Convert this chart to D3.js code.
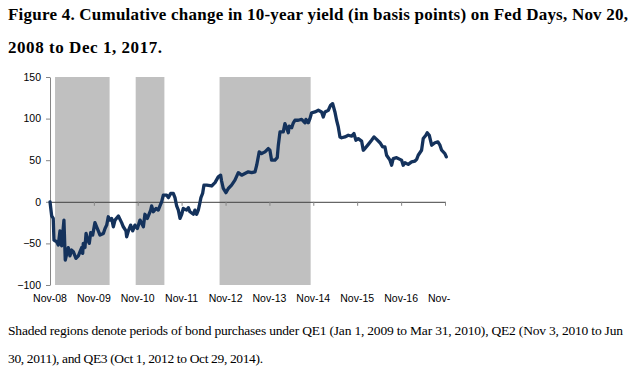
<!DOCTYPE html>
<html>
<head>
<meta charset="utf-8">
<script src="https://cdn.jsdelivr.net/npm/d3@7"></script>
<style>
  html, body { margin: 0; padding: 0; background: #fff; }
  svg { display: block; }
</style>
</head>
<body>
<svg id="chart" width="632" height="372"></svg>
<script>
const titleLines = [
  "Figure 4. Cumulative change in 10-year yield (in basis points) on Fed Days, Nov 20,",
  "2008 to Dec 1, 2017."
];
const captionLines = [
  "Shaded regions denote periods of bond purchases under QE1 (Jan 1, 2009 to Mar 31, 2010), QE2 (Nov 3, 2010 to Jun",
  "30, 2011), and QE3 (Oct 1, 2012 to Oct 29, 2014)."
];

const dates = [
  "2008-11-20","2008-12-04","2008-12-17","2008-12-23","2009-01-15","2009-01-28","2009-02-11","2009-02-25",
  "2009-03-16","2009-03-27","2009-04-21","2009-05-05","2009-05-19","2009-06-02","2009-06-24","2009-07-14",
  "2009-07-28","2009-08-11","2009-08-19","2009-08-24","2009-09-07","2009-09-16","2009-09-27","2009-10-13",
  "2009-10-25","2009-11-10","2009-11-29","2009-12-13","2009-12-27","2010-01-10","2010-02-07","2010-02-21",
  "2010-03-07","2010-03-20","2010-04-03","2010-04-17","2010-05-01","2010-05-15","2010-06-12","2010-07-09",
  "2010-07-23","2010-08-14","2010-08-20","2010-09-03","2010-09-22","2010-10-09","2010-10-28","2010-11-17",
  "2010-12-09","2011-01-06","2011-01-19","2011-02-08","2011-03-08","2011-03-16","2011-03-30","2011-04-21",
  "2011-05-10","2011-05-24","2011-06-07","2011-06-21","2011-07-19","2011-08-02","2011-08-21","2011-09-12",
  "2011-09-26","2011-10-10","2011-10-24","2011-11-07","2011-11-21","2011-12-04","2012-01-01","2012-01-15",
  "2012-01-29","2012-02-26","2012-03-10","2012-03-24","2012-04-07","2012-04-15","2012-04-29","2012-05-13",
  "2012-05-24","2012-06-16","2012-07-27","2012-08-24","2012-09-20","2012-10-10","2012-10-18","2012-11-01",
  "2012-11-23","2012-12-13","2013-01-09","2013-02-06","2013-03-06","2013-04-03","2013-04-30","2013-05-28",
  "2013-06-25","2013-07-23","2013-08-06","2013-08-27","2013-09-16","2013-10-14","2013-11-10","2013-11-24",
  "2013-12-08","2014-01-05","2014-01-24","2014-02-02","2014-02-16","2014-03-15","2014-03-29","2014-04-12",
  "2014-04-26","2014-05-04","2014-05-24","2014-06-07","2014-06-20","2014-07-18","2014-08-15","2014-08-29",
  "2014-09-12","2014-09-20","2014-10-09","2014-10-23","2014-11-06","2014-12-04","2015-01-01","2015-01-28",
  "2015-02-11","2015-02-25","2015-03-25","2015-04-13","2015-04-30","2015-05-19","2015-06-02","2015-06-16",
  "2015-06-30","2015-07-14","2015-08-10","2015-09-07","2015-10-05","2015-10-24","2015-11-10","2015-11-29",
  "2015-12-27","2016-01-10","2016-01-24","2016-02-21","2016-03-19","2016-04-08","2016-04-30","2016-05-28",
  "2016-06-19","2016-07-08","2016-07-22","2016-08-19","2016-09-02","2016-09-15","2016-10-13","2016-11-10",
  "2016-11-24","2016-12-07","2016-12-22","2017-01-18","2017-02-15","2017-03-15","2017-03-29","2017-04-11",
  "2017-05-09","2017-05-23","2017-06-14","2017-06-25","2017-07-12","2017-08-01","2017-08-28","2017-09-22",
  "2017-10-09","2017-10-23","2017-11-19","2017-12-01"
];
const values = [
  0, -17, -20, -46, -48, -52, -35, -53,
  -22, -70, -55, -65, -58, -60, -68, -65,
  -60, -55, -62, -50, -55, -38, -45, -50,
  -37, -40, -25, -30, -35, -40, -38, -32,
  -28, -18, -22, -20, -30, -22, -17, -25,
  -30, -35, -42, -35, -28, -35, -28, -32,
  -22, -30, -15, -20, -10, -5, -12, -8,
  -10, -5, 0, 8, 8, 5, 10, 10,
  5, -5, -10, -20, -15, -8, -10, -7,
  -12, -15, -10, -15, -10, -5, 5, 10,
  20, 20, 19, 23, 30, 32, 25, 16,
  11, 16, 20, 26, 35, 32, 34, 36,
  35, 36, 44, 60, 58, 60, 64, 62,
  50, 50, 53, 68, 84, 84, 94, 89,
  83, 91, 89, 95, 98, 98, 99, 97,
  95, 99, 95, 100, 107, 108, 110, 108,
  102, 108, 110, 116, 118, 108, 98, 90,
  78, 77, 78, 80, 79, 82, 74, 76,
  73, 62, 64, 69, 74, 78, 75, 71,
  66, 66, 56, 50, 44, 52, 53, 51,
  50, 44, 47, 45, 48, 49, 51, 56,
  62, 76, 80, 83, 80, 68, 71, 72,
  68, 62, 58, 54
];

const qeStarts = ["2009-01-01", "2010-11-03", "2012-10-01"];
const qeEnds   = ["2010-03-31", "2011-06-30", "2014-10-29"];

const xTickDates  = ["2008-11-20","2009-11-20","2010-11-20","2011-11-20","2012-11-20","2013-11-20","2014-11-20","2015-11-20","2016-11-20","2017-11-20"];
const xTickLabels = ["Nov-08","Nov-09","Nov-10","Nov-11","Nov-12","Nov-13","Nov-14","Nov-15","Nov-16","Nov-"];
const yTicks = [-100, -50, 0, 50, 100, 150];

const parse = d3.utcParse("%Y-%m-%d");
const svg = d3.select("#chart");

const x = d3.scaleUtc()
  .domain([parse("2008-11-20"), parse("2017-11-20")])
  .range([50, 445]);
const y = d3.scaleLinear().domain([-100, 150]).range([285, 77]);

// Title
const titleG = svg.append("g")
  .attr("font-family", "'Liberation Serif', 'DejaVu Serif', serif")
  .attr("font-weight", "bold")
  .attr("font-size", 17)
  .attr("fill", "#000");
titleG.append("text").attr("x", 8).attr("y", 20).attr("textLength", 620).attr("lengthAdjust", "spacing").text(titleLines[0]);
titleG.append("text").attr("x", 8).attr("y", 53).attr("textLength", 154).attr("lengthAdjust", "spacing").text(titleLines[1]);

// QE shading
svg.append("g").selectAll("rect")
  .data(qeStarts.map((s, i) => ({ s: parse(s), e: parse(qeEnds[i]) })))
  .join("rect")
  .attr("x", d => x(d.s))
  .attr("width", d => x(d.e) - x(d.s))
  .attr("y", y(150))
  .attr("height", y(-100) - y(150))
  .attr("fill", "#c0c0c0");

// Y axis
const yAxis = svg.append("g")
  .attr("transform", "translate(50,0)")
  .call(d3.axisLeft(y).tickValues(yTicks).tickSize(4).tickSizeOuter(0).tickPadding(5));
yAxis.select(".domain").attr("stroke", "#868686");
yAxis.selectAll(".tick line").attr("stroke", "#868686");
yAxis.selectAll(".tick text")
  .attr("font-family", "'Liberation Sans', Arial, sans-serif")
  .attr("font-size", 10.5)
  .attr("fill", "#000");

// Zero-line x axis with ticks
const xAxis = svg.append("g")
  .attr("transform", `translate(0,${y(0)})`)
  .call(d3.axisBottom(x).tickValues(xTickDates.map(parse)).tickSize(4).tickSizeOuter(0).tickFormat(""));
xAxis.select(".domain").attr("stroke", "#404040");
xAxis.selectAll(".tick line").attr("stroke", "#868686");

// X labels at bottom
svg.append("g")
  .attr("font-family", "'Liberation Sans', Arial, sans-serif")
  .attr("font-size", 10.5)
  .attr("fill", "#000")
  .selectAll("text")
  .data(xTickDates.map((d, i) => ({ d: parse(d), label: xTickLabels[i], last: i === xTickDates.length - 1 })))
  .join("text")
  .attr("x", d => d.last ? x(d.d) - 17 : x(d.d))
  .attr("y", 302)
  .attr("text-anchor", d => d.last ? "start" : "middle")
  .text(d => d.label);

// Line
const series = dates.map((d, i) => ({ d: parse(d), v: values[i] }));
svg.append("path")
  .datum(series)
  .attr("fill", "none")
  .attr("stroke", "#14325c")
  .attr("stroke-width", 3.3)
  .attr("stroke-linejoin", "round")
  .attr("stroke-linecap", "round")
  .attr("d", d3.line().x(p => x(p.d)).y(p => y(p.v)));

// Caption
const capG = svg.append("g")
  .attr("font-family", "'Liberation Serif', 'DejaVu Serif', serif")
  .attr("font-size", 13.5)
  .attr("fill", "#000");
capG.append("text").attr("x", 8).attr("y", 335).attr("textLength", 615).attr("lengthAdjust", "spacing").text(captionLines[0]);
capG.append("text").attr("x", 8).attr("y", 363).attr("textLength", 255).attr("lengthAdjust", "spacing").text(captionLines[1]);
</script>
</body>
</html>
